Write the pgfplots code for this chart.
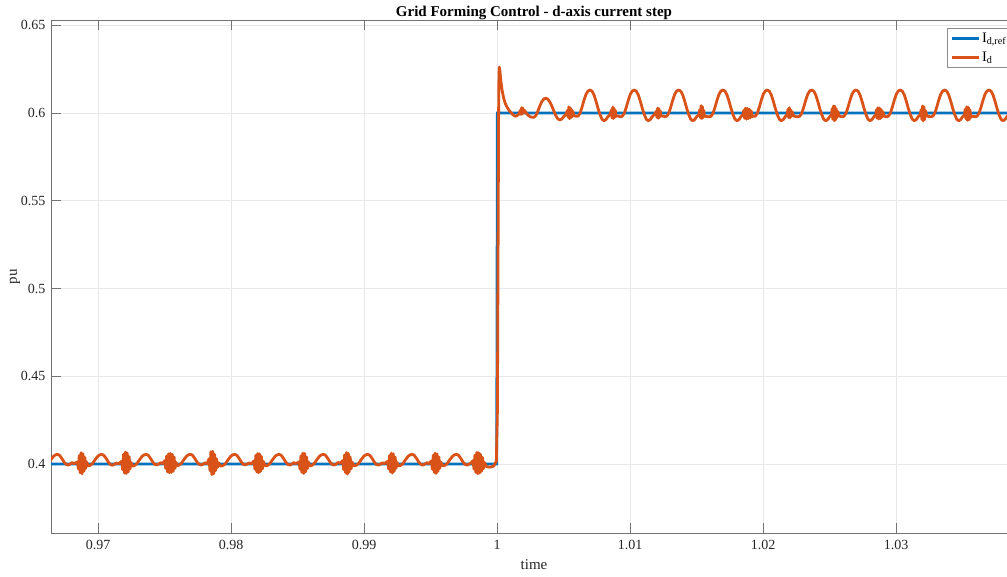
\documentclass[border=0pt]{standalone}
\usepackage{fontspec}
\setmainfont{Liberation Serif}
\usepackage{pgfplots}
\pgfplotsset{compat=1.18}

\definecolor{mblue}{RGB}{0,114,189}
\definecolor{morange}{RGB}{217,83,25}

\begin{document}
\begin{tikzpicture}
\begin{axis}[
  at={(51pt,44pt)}, anchor=south west,
  scale only axis, width=966pt, height=512.7pt,
  xmin=0.966466, xmax=1.039098, ymin=0.360684, ymax=0.65282,
  xtick={0.97,0.98,0.99,1,1.01,1.02,1.03},
  xticklabels={0.97,0.98,0.99,1,1.01,1.02,1.03},
  ytick={0.4,0.45,0.5,0.55,0.6,0.65},
  yticklabels={0.4,0.45,0.5,0.55,0.6,0.65},
  tick align=inside, major tick length=10pt,
  tick style={black!55, line width=0.6pt},
  axis line style={black!55, line width=0.8pt},
  grid=major, major grid style={black!9, line width=0.6pt},
  ticklabel style={font=\fontsize{14}{16}\selectfont, text=black!85},
  xticklabel style={yshift=-4pt},
  yticklabel style={xshift=-2pt},
  xlabel={time}, ylabel={pu},
  label style={font=\fontsize{15}{18}\selectfont, text=black!85},
  xlabel style={yshift=-3pt},
  ylabel style={yshift=-6pt},
  title={Grid Forming Control - d-axis current step},
  title style={font=\bfseries\fontsize{15}{18}\selectfont, yshift=-9.5pt},
  legend style={at={(0.9280,0.985)}, anchor=north west, draw=black!45,
    line width=0.6pt, font=\fontsize{14.5}{17}\selectfont, inner sep=2.5pt,
    row sep=4pt, cells={anchor=west, inner xsep=2pt}},
  legend image code/.code={\draw[#1] (0pt,0pt) -- (27pt,0pt);},
]

% reference current
\addplot[mblue, line width=2.8pt] coordinates {
(0.9660,0.4) (0.99998,0.4) (1.00003,0.6) (1.0395,0.6)
};
\addlegendentry{I\textsubscript{d,ref}}

% measured d-axis current
\addplot[morange, line width=2.8pt, line join=round] coordinates {
(0.96605,0.3991) (0.96625,0.4002) (0.96645,0.4024) (0.96665,0.4044) (0.96680,0.4052) (0.96695,0.4055)
(0.96710,0.4050) (0.96725,0.4035) (0.96745,0.4011) (0.96760,0.3998) (0.96775,0.3994) (0.96790,0.3999)
(0.96805,0.4008) (0.96820,0.4002)
(0.96845,0.4012) (0.96852,0.3972) (0.96859,0.4048) (0.96866,0.3950) (0.96873,0.4064) (0.96880,0.3944)
(0.96887,0.4058) (0.96894,0.3958) (0.96901,0.4038) (0.96908,0.3975) (0.96915,0.4012) (0.96925,0.3990)
(0.96938,0.3991) (0.96958,0.4002) (0.96978,0.4024) (0.96998,0.4044) (0.97013,0.4052) (0.97028,0.4055)
(0.97043,0.4050) (0.97058,0.4035) (0.97078,0.4011) (0.97093,0.3997) (0.97108,0.3993) (0.97123,0.3998)
(0.97138,0.4006) (0.97153,0.4001)
(0.97178,0.4015) (0.97185,0.3968) (0.97192,0.4055) (0.97199,0.3948) (0.97206,0.4068) (0.97213,0.3946)
(0.97220,0.4062) (0.97227,0.3955) (0.97234,0.4042) (0.97241,0.3972) (0.97248,0.4010) (0.97258,0.3988)
(0.97272,0.3990) (0.97292,0.4002) (0.97312,0.4024) (0.97332,0.4044) (0.97347,0.4052) (0.97362,0.4055)
(0.97377,0.4050) (0.97392,0.4035) (0.97412,0.4011) (0.97427,0.3998) (0.97442,0.3995) (0.97457,0.4000)
(0.97472,0.4008) (0.97487,0.4002)
(0.97502,0.4020) (0.97509,0.3975) (0.97516,0.4045) (0.97523,0.3955) (0.97530,0.4058) (0.97537,0.3950)
(0.97544,0.4060) (0.97551,0.3952) (0.97558,0.4055) (0.97565,0.3958) (0.97572,0.4040) (0.97579,0.3975)
(0.97586,0.4010) (0.97595,0.3992)
(0.97605,0.3992) (0.97625,0.4002) (0.97645,0.4024) (0.97665,0.4044) (0.97680,0.4052) (0.97695,0.4055)
(0.97710,0.4050) (0.97725,0.4035) (0.97745,0.4011) (0.97760,0.3998) (0.97775,0.3994) (0.97790,0.3999)
(0.97805,0.4007) (0.97820,0.4002)
(0.97835,0.4030) (0.97842,0.3962) (0.97849,0.4070) (0.97856,0.3940) (0.97863,0.4072) (0.97870,0.3945)
(0.97877,0.4055) (0.97884,0.3962) (0.97891,0.4030) (0.97898,0.3980) (0.97905,0.4008) (0.97920,0.3988)
(0.97938,0.3990) (0.97958,0.4002) (0.97978,0.4024) (0.97998,0.4044) (0.98013,0.4052) (0.98028,0.4055)
(0.98043,0.4050) (0.98058,0.4035) (0.98078,0.4011) (0.98093,0.3998) (0.98108,0.3995) (0.98123,0.4000)
(0.98138,0.4006) (0.98153,0.4001)
(0.98173,0.4018) (0.98180,0.3970) (0.98187,0.4050) (0.98194,0.3955) (0.98201,0.4060) (0.98208,0.3950)
(0.98215,0.4058) (0.98222,0.3958) (0.98229,0.4042) (0.98236,0.3972) (0.98243,0.4015) (0.98256,0.3990)
(0.98272,0.3991) (0.98292,0.4002) (0.98312,0.4024) (0.98332,0.4044) (0.98347,0.4052) (0.98362,0.4055)
(0.98377,0.4050) (0.98392,0.4035) (0.98412,0.4011) (0.98427,0.3998) (0.98442,0.3994) (0.98457,0.3999)
(0.98472,0.4008) (0.98487,0.4002)
(0.98512,0.4012) (0.98519,0.3970) (0.98526,0.4046) (0.98533,0.3952) (0.98540,0.4062) (0.98547,0.3946)
(0.98554,0.4060) (0.98561,0.3956) (0.98568,0.4040) (0.98575,0.3974) (0.98582,0.4012) (0.98592,0.3990)
(0.98605,0.3991) (0.98625,0.4002) (0.98645,0.4024) (0.98665,0.4044) (0.98680,0.4052) (0.98695,0.4055)
(0.98710,0.4050) (0.98725,0.4035) (0.98745,0.4011) (0.98760,0.3998) (0.98775,0.3994) (0.98790,0.3999)
(0.98805,0.4009) (0.98820,0.4003)
(0.98840,0.4020) (0.98847,0.3968) (0.98854,0.4052) (0.98861,0.3950) (0.98868,0.4065) (0.98875,0.3942)
(0.98882,0.4060) (0.98889,0.3955) (0.98896,0.4040) (0.98903,0.3972) (0.98910,0.4012) (0.98923,0.3990)
(0.98938,0.3991) (0.98958,0.4002) (0.98978,0.4024) (0.98998,0.4044) (0.99013,0.4052) (0.99028,0.4055)
(0.99043,0.4050) (0.99058,0.4035) (0.99078,0.4011) (0.99093,0.3997) (0.99108,0.3994) (0.99123,0.3999)
(0.99138,0.4007) (0.99153,0.4002)
(0.99178,0.4015) (0.99185,0.3972) (0.99192,0.4048) (0.99199,0.3955) (0.99206,0.4062) (0.99213,0.3948)
(0.99220,0.4058) (0.99227,0.3958) (0.99234,0.4040) (0.99241,0.3975) (0.99248,0.4010) (0.99258,0.3990)
(0.99272,0.3991) (0.99292,0.4002) (0.99312,0.4024) (0.99332,0.4044) (0.99347,0.4052) (0.99362,0.4055)
(0.99377,0.4050) (0.99392,0.4035) (0.99412,0.4011) (0.99427,0.3998) (0.99442,0.3994) (0.99457,0.3999)
(0.99472,0.4008) (0.99487,0.4002)
(0.99507,0.4018) (0.99514,0.3970) (0.99521,0.4050) (0.99528,0.3952) (0.99535,0.4062) (0.99542,0.3946)
(0.99549,0.4058) (0.99556,0.3958) (0.99563,0.4040) (0.99570,0.3975) (0.99577,0.4012) (0.99590,0.3990)
(0.99605,0.3991) (0.99625,0.4002) (0.99645,0.4024) (0.99665,0.4044) (0.99680,0.4052) (0.99695,0.4055)
(0.99710,0.4050) (0.99725,0.4035) (0.99745,0.4011) (0.99760,0.3998) (0.99775,0.3994) (0.99790,0.3999)
(0.99805,0.4006)
(0.99820,0.4020) (0.99827,0.3970) (0.99834,0.4050) (0.99841,0.3952) (0.99848,0.4066) (0.99855,0.3945)
(0.99862,0.4064) (0.99869,0.3948) (0.99876,0.4055) (0.99883,0.3958) (0.99890,0.4038) (0.99897,0.3972)
(0.99904,0.4010) (0.99920,0.3985) (0.99950,0.3982) (0.99975,0.3988) (0.99995,0.4015)
(1.00003,0.4300) (1.00008,0.5200) (1.00013,0.6150) (1.00017,0.6262) (1.00021,0.6245) (1.00028,0.6190)
(1.00038,0.6130) (1.00050,0.6085) (1.00062,0.6055) (1.00075,0.6034) (1.00090,0.6016) (1.00105,0.6002)
(1.00120,0.5990) (1.00135,0.5982) (1.00150,0.5984) (1.00165,0.5995)
(1.00175,0.6015) (1.00180,0.5992) (1.00185,0.6030) (1.00190,0.5995) (1.00195,0.6028) (1.00200,0.6000)
(1.00207,0.6015) (1.00215,0.6005) (1.00230,0.5990) (1.00250,0.5978)
(1.00277,0.5975) (1.00292,0.5985) (1.00307,0.6010) (1.00322,0.6040) (1.00337,0.6065) (1.00352,0.6080)
(1.00367,0.6084) (1.00382,0.6079) (1.00397,0.6063) (1.00412,0.6040) (1.00427,0.6012) (1.00442,0.5985)
(1.00457,0.5967) (1.00472,0.5960) (1.00487,0.5966) (1.00502,0.5980) (1.00517,0.5990)
(1.00530,0.6015) (1.00535,0.5975) (1.00540,0.6035) (1.00545,0.5968) (1.00550,0.6030) (1.00555,0.5972)
(1.00560,0.6020) (1.00565,0.5978) (1.00570,0.6010) (1.00577,0.5985) (1.00592,0.5982)
(1.00610,0.5982) (1.00625,0.6000) (1.00640,0.6035) (1.00655,0.6075) (1.00670,0.6108) (1.00685,0.6126)
(1.00700,0.6131) (1.00715,0.6124) (1.00730,0.6102) (1.00745,0.6066) (1.00760,0.6025) (1.00775,0.5990)
(1.00790,0.5964) (1.00805,0.5956) (1.00820,0.5963) (1.00835,0.5980) (1.00850,0.5990)
(1.00860,0.6018) (1.00865,0.5972) (1.00870,0.6034) (1.00875,0.5968) (1.00880,0.6028) (1.00885,0.5974)
(1.00890,0.6014) (1.00895,0.5982) (1.00910,0.5983) (1.00928,0.5978)
(1.00943,0.5982) (1.00958,0.6000) (1.00973,0.6035) (1.00988,0.6075) (1.01003,0.6108) (1.01018,0.6126)
(1.01033,0.6131) (1.01048,0.6124) (1.01063,0.6102) (1.01078,0.6066) (1.01093,0.6025) (1.01108,0.5990)
(1.01123,0.5964) (1.01138,0.5956) (1.01153,0.5963) (1.01168,0.5980) (1.01183,0.5990)
(1.01198,0.6010) (1.01203,0.5975) (1.01208,0.6028) (1.01213,0.5970) (1.01218,0.6024) (1.01223,0.5976)
(1.01228,0.6012) (1.01233,0.5984) (1.01245,0.5983) (1.01262,0.5979)
(1.01277,0.5982) (1.01292,0.6000) (1.01307,0.6035) (1.01322,0.6075) (1.01337,0.6108) (1.01352,0.6126)
(1.01367,0.6131) (1.01382,0.6124) (1.01397,0.6102) (1.01412,0.6066) (1.01427,0.6025) (1.01442,0.5990)
(1.01457,0.5964) (1.01472,0.5956) (1.01487,0.5963) (1.01502,0.5980) (1.01517,0.5988)
(1.01525,0.6020) (1.01530,0.5972) (1.01535,0.6042) (1.01540,0.5968) (1.01545,0.6035) (1.01550,0.5974)
(1.01555,0.6015) (1.01560,0.5982) (1.01575,0.5980) (1.01595,0.5978)
(1.01610,0.5982) (1.01625,0.6000) (1.01640,0.6035) (1.01655,0.6075) (1.01670,0.6108) (1.01685,0.6126)
(1.01700,0.6131) (1.01715,0.6124) (1.01730,0.6102) (1.01745,0.6066) (1.01760,0.6025) (1.01775,0.5990)
(1.01790,0.5964) (1.01805,0.5956) (1.01820,0.5963) (1.01835,0.5980) (1.01850,0.5990)
(1.01855,0.6015) (1.01862,0.5970) (1.01869,0.6028) (1.01876,0.5965) (1.01883,0.6026) (1.01890,0.5968)
(1.01897,0.6022) (1.01904,0.5972) (1.01911,0.6012) (1.01918,0.5980) (1.01930,0.5982)
(1.01943,0.5982) (1.01958,0.6000) (1.01973,0.6035) (1.01988,0.6075) (1.02003,0.6108) (1.02018,0.6126)
(1.02033,0.6131) (1.02048,0.6124) (1.02063,0.6102) (1.02078,0.6066) (1.02093,0.6025) (1.02108,0.5990)
(1.02123,0.5964) (1.02138,0.5956) (1.02153,0.5963) (1.02168,0.5980) (1.02180,0.5988)
(1.02188,0.6022) (1.02193,0.5974) (1.02198,0.6030) (1.02203,0.5972) (1.02208,0.6018) (1.02213,0.5980)
(1.02218,0.6008) (1.02232,0.5982) (1.02260,0.5978)
(1.02277,0.5982) (1.02292,0.6000) (1.02307,0.6035) (1.02322,0.6075) (1.02337,0.6108) (1.02352,0.6126)
(1.02367,0.6131) (1.02382,0.6124) (1.02397,0.6102) (1.02412,0.6066) (1.02427,0.6025) (1.02442,0.5990)
(1.02457,0.5964) (1.02472,0.5956) (1.02487,0.5963) (1.02502,0.5980) (1.02515,0.5988)
(1.02520,0.6025) (1.02525,0.5965) (1.02530,0.6040) (1.02535,0.5956) (1.02540,0.6038) (1.02545,0.5960)
(1.02550,0.6025) (1.02555,0.5972) (1.02560,0.6010) (1.02575,0.5982) (1.02595,0.5978)
(1.02610,0.5982) (1.02625,0.6000) (1.02640,0.6035) (1.02655,0.6075) (1.02670,0.6108) (1.02685,0.6126)
(1.02700,0.6131) (1.02715,0.6124) (1.02730,0.6102) (1.02745,0.6066) (1.02760,0.6025) (1.02775,0.5990)
(1.02790,0.5964) (1.02805,0.5956) (1.02820,0.5963) (1.02835,0.5980) (1.02848,0.5988)
(1.02852,0.6018) (1.02858,0.5970) (1.02864,0.6030) (1.02870,0.5966) (1.02876,0.6028) (1.02882,0.5968)
(1.02888,0.6020) (1.02894,0.5976) (1.02900,0.6008) (1.02912,0.5982) (1.02928,0.5978)
(1.02943,0.5982) (1.02958,0.6000) (1.02973,0.6035) (1.02988,0.6075) (1.03003,0.6108) (1.03018,0.6126)
(1.03033,0.6131) (1.03048,0.6124) (1.03063,0.6102) (1.03078,0.6066) (1.03093,0.6025) (1.03108,0.5990)
(1.03123,0.5964) (1.03138,0.5956) (1.03153,0.5963) (1.03168,0.5980) (1.03180,0.5988)
(1.03190,0.6020) (1.03195,0.5962) (1.03200,0.6040) (1.03205,0.5955) (1.03210,0.6035) (1.03215,0.5962)
(1.03220,0.6015) (1.03235,0.5982) (1.03260,0.5978)
(1.03277,0.5982) (1.03292,0.6000) (1.03307,0.6035) (1.03322,0.6075) (1.03337,0.6108) (1.03352,0.6126)
(1.03367,0.6131) (1.03382,0.6124) (1.03397,0.6102) (1.03412,0.6066) (1.03427,0.6025) (1.03442,0.5990)
(1.03457,0.5964) (1.03472,0.5956) (1.03487,0.5963) (1.03502,0.5980) (1.03515,0.5988)
(1.03520,0.6022) (1.03526,0.5966) (1.03532,0.6035) (1.03538,0.5958) (1.03544,0.6032) (1.03550,0.5962)
(1.03556,0.6018) (1.03562,0.5975) (1.03575,0.5982) (1.03595,0.5978)
(1.03610,0.5982) (1.03625,0.6000) (1.03640,0.6035) (1.03655,0.6075) (1.03670,0.6108) (1.03685,0.6126)
(1.03700,0.6131) (1.03715,0.6124) (1.03730,0.6102) (1.03745,0.6066) (1.03760,0.6025) (1.03775,0.5990)
(1.03790,0.5964) (1.03805,0.5956) (1.03820,0.5963) (1.03835,0.5980) (1.03850,0.5990)
(1.03860,0.6015) (1.03865,0.5972) (1.03870,0.6030) (1.03875,0.5968) (1.03880,0.6025) (1.03885,0.5975)
(1.03890,0.6012) (1.03895,0.5982) (1.03910,0.5983) (1.03930,0.5978)
};
\addlegendentry{I\textsubscript{d}}
\end{axis}
\pgfresetboundingbox
\path[use as bounding box] (0pt,0pt) rectangle (1007pt,577pt);
\end{tikzpicture}
\end{document}
